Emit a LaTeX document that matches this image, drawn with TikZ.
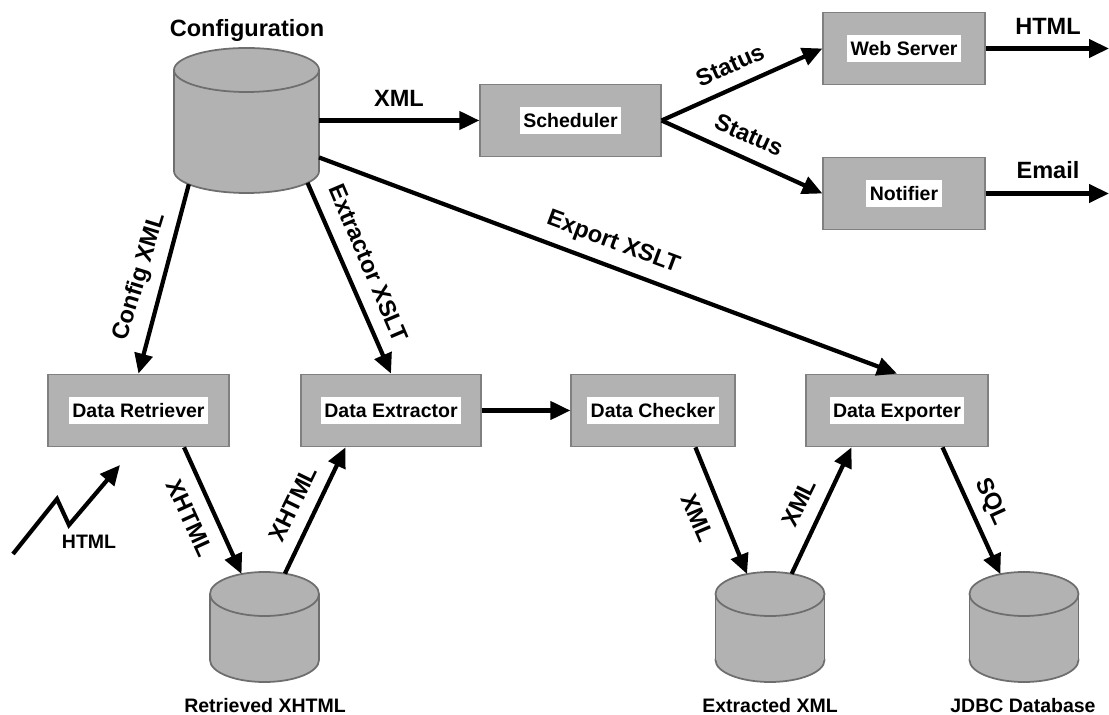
\documentclass[tikz,border=0pt]{standalone}
\usepackage{fontspec}
\setmainfont{Liberation Sans}
\usetikzlibrary{shapes.geometric,arrows.meta}
\definecolor{boxgray}{HTML}{B2B2B2}
\definecolor{drumgray}{HTML}{6E6E6E}
\tikzset{
    flow/.style={-{Triangle[length=4mm,width=3.6mm]}, line width=2.4pt},
    stage/.style={draw=gray, fill=boxgray, line width=0.7pt, inner sep=0pt, minimum height=72.5*0.02cm},
    stagetext/.style={fill=white, inner xsep=2pt, inner ysep=0pt, text height=11.65pt, text depth=3.65pt, font=\fontsize{11.1}{13}\selectfont\bfseries},
    drumcap/.style={shape=ellipse, draw=drumgray, fill=boxgray, line width=1pt, inner sep=0pt, outer sep=0pt, minimum height=44*0.02cm},
    drumbody/.style={fill=boxgray, inner sep=0pt, outer sep=0pt},
    drumside/.style={draw=drumgray, line width=1pt},
    biglabel/.style={font=\fontsize{13.4}{16}\selectfont\bfseries, inner sep=0pt},
    smalllabel/.style={font=\fontsize{11.1}{13}\selectfont\bfseries, inner sep=0pt}
}
\begin{document}
\begin{tikzpicture}[x=0.02cm, y=-0.02cm]
    \useasboundingbox (0,0) rectangle (1109,715);

    % Stores
    \node[drumcap, minimum width=145*0.02cm] (configbottom) at (246.5,171) {};
    \node[drumbody, minimum width=145*0.02cm, minimum height=101*0.02cm] (config) at (246.5,120.5) {};
    \draw[drumside] (config.north west) -- (config.south west) (config.north east) -- (config.south east);
    \node[drumcap, minimum width=145*0.02cm] (configtop) at (246.5,70) {};
    \foreach \name/\x in {retrieved/264.5, extracted/770, jdbc/1024} {
        \node[drumcap, minimum width=109*0.02cm] (\name bottom) at (\x,660) {};
        \node[drumbody, minimum width=109*0.02cm, minimum height=66*0.02cm] (\name) at (\x,627) {};
        \draw[drumside] (\name.north west) -- (\name.south west) (\name.north east) -- (\name.south east);
        \node[drumcap, minimum width=109*0.02cm] (\name top) at (\x,594) {};
    }

    % Stages
    \node[stage, minimum width=181*0.02cm] (scheduler) at (570.5,120.5) {};
    \node[stage, minimum width=162*0.02cm] (webserver) at (904,48.5) {};
    \node[stage, minimum width=162*0.02cm] (notifier) at (904,193.5) {};
    \node[stage, minimum width=181*0.02cm] (retriever) at (138.5,410.5) {};
    \node[stage, minimum width=180*0.02cm] (extractor) at (391,410.5) {};
    \node[stage, minimum width=164*0.02cm] (checker) at (653,410.5) {};
    \node[stage, minimum width=182*0.02cm] (exporter) at (897,410.5) {};

    % Stage names
    \node[stagetext] (schedulertext) at (scheduler) {Scheduler};
    \node[stagetext] (webservertext) at (webserver) {Web Server};
    \node[stagetext] (notifiertext) at (notifier) {Notifier};
    \node[stagetext] (retrievertext) at (retriever) {Data Retriever};
    \node[stagetext] (extractortext) at (extractor) {Data Extractor};
    \node[stagetext] (checkertext) at (checker) {Data Checker};
    \node[stagetext] (exportertext) at (exporter) {Data Exporter};

    % Free ends
    \coordinate (htmlout) at (1109,48.5);
    \coordinate (mailout) at (1109,193.5);
    \coordinate (webstart) at (13,554);
    \coordinate (webtip) at (120,465);

    % Top row
    \draw[flow] (config.east) -- (scheduler.west);
    \draw[flow] (scheduler.east) -- (webserver.west);
    \draw[flow] (scheduler.east) -- (notifier.west);
    \draw[flow] (webserver.east) -- (htmlout);
    \draw[flow] (notifier.east) -- (mailout);

    % Out of the configuration
    \draw[flow] (configbottom.193.2) -- (retriever.north);
    \draw[flow] (configbottom.-11.7) -- (extractor.north);
    \draw[flow] (config.-27.3) -- (exporter.north);

    % Bottom row
    \draw[flow] (retriever.-39.4) -- (retrievedtop.139.6);
    \draw[flow] (retrievedtop.45.7) -- (extractor.219);
    \draw[flow] (extractor.east) -- (checker.west);
    \draw[flow] (checker.-41.7) -- (extractedtop.139);
    \draw[flow] (extractedtop.43.6) -- (exporter.219);
    \draw[flow] (exporter.-39) -- (jdbctop.140.2);

    % Incoming page
    \draw[flow] (webstart) -- (57,499) -- (69,525) -- (webtip);

    % Labels
    \node[biglabel] (configname) at (247,30) {Configuration};
    \node[smalllabel] (retrievedname) at (265,706) {Retrieved XHTML};
    \node[smalllabel] (extractedname) at (770,706) {Extracted XML};
    \node[smalllabel] (jdbcname) at (1023,706) {JDBC Database};
    \node[smalllabel] (htmlin) at (89,542) {HTML};
    \node[biglabel] (xmltop) at (399,98) {XML};
    \node[biglabel] (htmltop) at (1048,26) {HTML};
    \node[biglabel] (emailtop) at (1048,170) {Email};
    \node[biglabel, rotate=24] (statusup) at (730,65) {Status};
    \node[biglabel, rotate=-24] (statusdown) at (749,135) {Status};
    \node[biglabel, rotate=73] (configxml) at (140,277) {Config XML};
    \node[biglabel, rotate=-67] (extractorxslt) at (369,263) {Extractor XSLT};
    \node[biglabel, rotate=-20.5] (exportxslt) at (613,243) {Export XSLT};
    \node[biglabel, rotate=-65.5] (xhtmldown) at (190,518) {XHTML};
    \node[biglabel, rotate=64] (xhtmlup) at (293,504) {XHTML};
    \node[biglabel, rotate=-67] (xmldown) at (698,518) {XML};
    \node[biglabel, rotate=64] (xmlup) at (799,503) {XML};
    \node[biglabel, rotate=-65.5] (sqldown) at (991,502) {SQL};
\end{tikzpicture}
\end{document}
